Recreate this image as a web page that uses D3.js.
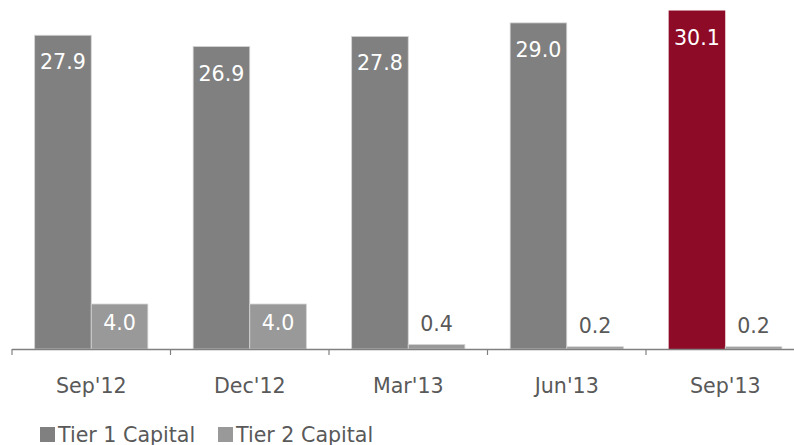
<!DOCTYPE html>
<html>
<head>
<meta charset="utf-8">
<script src="https://cdn.jsdelivr.net/npm/d3@7"></script>
<style>
  body { margin: 0; background: #fff; }
  svg text { font-family: "DejaVu Sans", Verdana, sans-serif; }
</style>
</head>
<body>
<div id="app"></div>
<script>
const quarters = ["Sep'12", "Dec'12", "Mar'13", "Jun'13", "Sep'13"];
const seriesNames = ["Tier 1 Capital", "Tier 2 Capital"];
const tier1 = [27.9, 26.9, 27.8, 29.0, 30.1];
const tier2 = [4.0, 4.0, 0.4, 0.2, 0.2];

const W = 794, H = 445;
const base = 349;
const fontSize = "20.6px";
const colors = { t1: "#808080", t2: "#999999", hi: "#8E0B27" };

const svg = d3.select("#app").append("svg")
    .attr("width", W)
    .attr("height", H);

const x = d3.scaleBand()
    .domain(quarters)
    .range([12, 804.5])
    .padding(0);

const xi = d3.scaleBand()
    .domain(seriesNames)
    .range([0, x.bandwidth()])
    .paddingInner(0)
    .paddingOuter(0.4);

const y = d3.scaleLinear()
    .domain([0, 31])
    .range([base, 0.4]);

const rows = quarters.map((q, i) => ({ q: q, vals: [tier1[i], tier2[i]] }));

const groups = svg.append("g").attr("id", "bars")
    .selectAll("g")
    .data(rows).enter()
    .append("g")
    .attr("transform", d => "translate(" + x(d.q) + ",0)");

const cells = groups.selectAll("g")
    .data((d, i) => d.vals.map((v, k) => ({ v: v, k: k, last: i === quarters.length - 1 })))
    .enter().append("g");

cells.append("rect")
    .attr("x", d => xi(seriesNames[d.k]))
    .attr("width", xi.bandwidth())
    .attr("y", d => y(d.v))
    .attr("height", d => base - y(d.v))
    .style("fill", d => d.k === 0 ? (d.last ? colors.hi : colors.t1) : colors.t2)
    .style("stroke", d => d.last && d.k === 0 ? "none" : "#d4d4d4")
    .style("stroke-width", 0.8);

// value labels: inside the bar when it is tall enough, above it otherwise
cells.append("text")
    .attr("x", d => xi(seriesNames[d.k]) + xi.bandwidth() / 2)
    .attr("y", d => {
        const h = base - y(d.v);
        if (h > 100) return y(d.v) + 34;
        if (h > 30) return y(d.v) + 26;
        return y(d.v) - 14;
    })
    .attr("text-anchor", "middle")
    .style("font-size", fontSize)
    .style("fill", d => (base - y(d.v)) > 30 ? "#ffffff" : "#595959")
    .text(d => d.v.toFixed(1));

// x axis
const axis = svg.append("g")
    .attr("id", "x-axis")
    .attr("transform", "translate(0," + base + ")")
    .call(d3.axisBottom(x).tickSize(0).tickPadding(0).tickFormat(""));
axis.select(".domain").remove();

axis.append("line")
    .attr("x1", x.range()[0]).attr("x2", x.range()[1])
    .attr("y1", 0.5).attr("y2", 0.5)
    .style("stroke", "#808080")
    .style("stroke-width", 1.5);

axis.selectAll(".sep")
    .data(quarters.concat(["end"])).enter()
    .append("line")
    .attr("class", "sep")
    .attr("x1", (d, i) => x.range()[0] + i * x.step())
    .attr("x2", (d, i) => x.range()[0] + i * x.step())
    .attr("y1", 0).attr("y2", 6)
    .style("stroke", "#808080")
    .style("stroke-width", 1.2);

axis.selectAll(".qlabel")
    .data(quarters).enter()
    .append("text")
    .attr("class", "qlabel")
    .attr("x", d => x(d) + x.bandwidth() / 2)
    .attr("y", 44)
    .attr("text-anchor", "middle")
    .style("font-size", fontSize)
    .style("fill", "#595959")
    .text(d => d);

// legend
const legendX = [40, 218];
const legend = svg.append("g").attr("id", "legend")
    .selectAll("g")
    .data(seriesNames).enter()
    .append("g")
    .attr("transform", (d, i) => "translate(" + legendX[i] + ",427)");

legend.append("rect")
    .attr("width", 15)
    .attr("height", 15)
    .style("fill", (d, i) => i === 0 ? colors.t1 : colors.t2);

legend.append("text")
    .attr("x", 18)
    .attr("y", 14.5)
    .style("font-size", fontSize)
    .style("fill", "#595959")
    .text(d => d);
</script>
</body>
</html>
